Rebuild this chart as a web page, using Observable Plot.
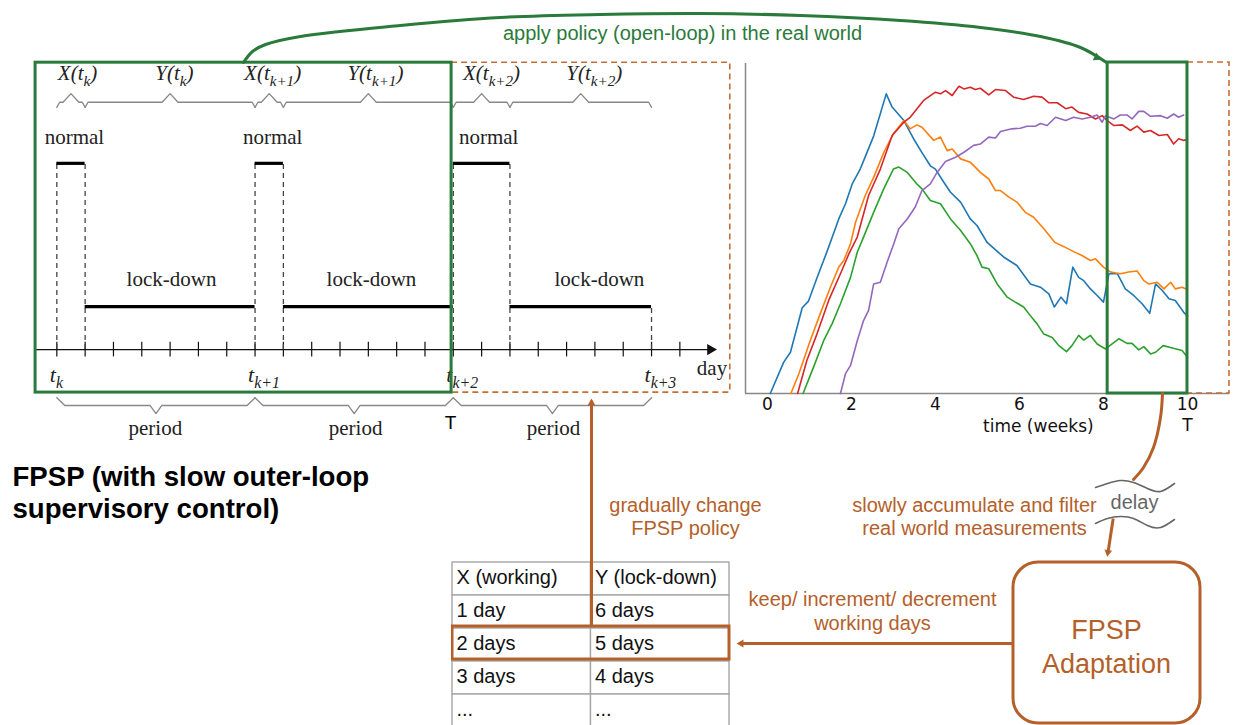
<!DOCTYPE html>
<html><head><meta charset="utf-8">
<script src="https://cdn.jsdelivr.net/npm/d3@7"></script>
<script src="https://cdn.jsdelivr.net/npm/@observablehq/plot@0.6"></script>
<style>
body{margin:0;background:#fff;}
#fig{position:relative;width:1235px;height:725px;overflow:hidden;background:#fff;}
#fig > *{position:absolute;}
</style></head><body><div id="fig"></div>
<script>
// ================= DATA =================
// --- timeline (left panel): FPSP schedule in days ---
const schedule = [
  {start: 0,  end: 1,  mode: "normal"},
  {start: 1,  end: 7,  mode: "lock-down"},
  {start: 7,  end: 8,  mode: "normal"},
  {start: 8,  end: 14, mode: "lock-down"},
  {start: 14, end: 16, mode: "normal"},
  {start: 16, end: 21, mode: "lock-down"}
];
const modeLevels = {"normal": 4.33, "lock-down": 1};
const dayTicks = [0,1,2,3,4,5,6,7,8,9,10,11,12,13,14,15,16,17,18,19,20,21,22];
const periodStarts = [0, 7, 14, 21];
const periodTickLabels = ["t_k", "t_{k+1}", "t_{k+2}", "t_{k+3}"];
const braceLabels = ["X(t_k)", "Y(t_k)", "X(t_{k+1})", "Y(t_{k+1})", "X(t_{k+2})", "Y(t_{k+2})"];
const braceLabelDays = [0.73, 4.15, 7.62, 11.25, 15.35, 18.98];
const modeLabelDays = [0.62, 4.05, 7.62, 11.11, 15.25, 19.16];
const periodLabelDays = [3.48, 10.55, 17.54];
const appliedWindow = [-0.75, 13.94];   // green box (days)
const nextWindow = [13.94, 23.78];      // orange dashed box (days)

// --- simulation (right panel): weeks vs. infections (arbitrary units) ---
const weekTicks = [0, 2, 4, 6, 8, 10];
const seriesNames = ["s1", "s2", "s3", "s4", "s5"];
const seriesColors = ["#1f77b4", "#ff7f0e", "#2ca02c", "#d62728", "#9467bd"];
const s1 = [[0.07,0],[0.39,9.5],[0.55,12.5],[0.83,26],[0.98,28],[1.18,35],[1.42,43],[1.70,52.9],[1.86,57.5],[2.02,63.5],[2.21,68],[2.53,78],[2.83,90.8],[2.97,86.8],[3.25,82.7],[3.48,77.2],[3.68,73],[3.88,69],[4.0,68],[4.2,64],[4.36,61],[4.6,58],[4.83,52.9],[4.99,50.9],[5.23,45.8],[5.63,41.3],[5.94,38.8],[6.26,33.2],[6.5,32.2],[6.7,30.2],[6.83,26.2],[6.99,29.2],[7.12,27.2],[7.27,38.3],[7.41,35.2],[7.53,34.2],[7.69,31.7],[7.85,29.7],[8.0,27.7],[8.13,36.3],[8.33,36.3],[8.52,31.7],[8.72,29.7],[8.92,27.2],[9.1,24.3],[9.24,33.2],[9.4,31.2],[9.56,28.7],[9.71,28.2],[9.91,24.6],[10.0,23.5]];
const s2 = [[0.56,0],[0.75,6],[1.02,16],[1.26,24.2],[1.5,32.2],[1.7,38.3],[1.82,40.3],[1.98,45.4],[2.1,51.9],[2.33,60],[2.53,65.5],[2.77,73],[3.0,78.7],[3.25,82.7],[3.4,80.2],[3.56,81.4],[3.68,80.7],[3.96,76.7],[4.12,77.7],[4.28,73.6],[4.4,74.1],[4.6,71.1],[4.83,70.1],[5.07,67],[5.27,65],[5.43,61.5],[5.55,61.5],[5.75,59.5],[5.94,58],[6.14,54.9],[6.34,53.4],[6.58,49.9],[6.84,45.8],[7.06,44.5],[7.29,43],[7.49,41.8],[7.69,40.3],[7.81,40.8],[8.0,38.3],[8.17,36.8],[8.4,36.3],[8.6,36.8],[8.8,37.1],[8.96,34.2],[9.08,33.2],[9.28,33.7],[9.44,31.7],[9.6,33.7],[9.71,31.7],[9.87,32.2],[10.0,31.5]];
const s3 = [[0.85,0],[1.1,8],[1.34,16],[1.54,21.1],[1.74,27.2],[1.98,35.2],[2.14,42.8],[2.29,47.4],[2.53,54.9],[2.77,62],[3.0,68],[3.13,68.6],[3.33,67],[3.56,63.5],[3.68,62],[3.88,58.5],[4.12,57.5],[4.36,52.9],[4.6,49.4],[4.83,45.4],[4.99,41.8],[5.11,38.3],[5.27,37.8],[5.47,33.2],[5.71,29.2],[5.9,27.7],[6.1,26.2],[6.26,23.6],[6.42,21.1],[6.58,18],[6.78,17],[6.94,14.5],[7.12,12.7],[7.25,14.5],[7.41,17.6],[7.53,16.2],[7.69,17.6],[7.85,15],[8.05,13.5],[8.37,16.6],[8.56,15.2],[8.68,15.2],[8.84,13.2],[8.96,14.2],[9.12,12],[9.24,12.5],[9.42,14.5],[9.64,13.8],[9.87,13],[10.0,11]];
const s4 = [[0.72,0],[0.94,10],[1.18,18],[1.46,28.2],[1.74,36.3],[1.94,42.3],[2.14,47.4],[2.41,60],[2.69,68],[2.97,78.2],[3.25,82.2],[3.4,83.7],[3.72,88.8],[4.0,91.3],[4.12,90.8],[4.24,91.8],[4.4,90.3],[4.56,93.1],[4.68,92.3],[4.83,92.8],[4.95,92.1],[5.07,92.5],[5.27,90.5],[5.43,92.1],[5.67,91.8],[5.86,89.8],[6.1,89.1],[6.34,90.1],[6.54,89.8],[6.7,88.1],[6.9,88.1],[7.1,86.3],[7.25,86.8],[7.41,85.2],[7.61,84.7],[7.81,83.2],[7.97,84.2],[8.09,82.7],[8.25,81.2],[8.45,81.4],[8.64,79.7],[8.8,81],[8.96,79.2],[9.12,79.7],[9.32,78.2],[9.52,78.5],[9.67,75.6],[9.79,77.2],[9.91,76.7],[10.0,77]];
const s5 = [[1.74,0],[1.86,6],[1.98,8.5],[2.14,16],[2.29,22.1],[2.41,25.2],[2.53,33.2],[2.69,33.7],[2.85,39.8],[3.01,45.4],[3.13,49.9],[3.33,52.9],[3.52,56.5],[3.68,61.5],[3.88,63.5],[4.04,67],[4.24,70.3],[4.48,71.6],[4.68,73.1],[4.91,75.2],[5.07,75.6],[5.27,77.7],[5.43,77.4],[5.55,79.4],[5.82,80.2],[6.02,80.4],[6.18,81],[6.38,81],[6.5,81.8],[6.66,81.2],[6.86,83.7],[7.1,82.7],[7.29,83.7],[7.49,83.2],[7.69,83.7],[7.85,84.4],[7.97,82.2],[8.05,84.2],[8.25,83.2],[8.4,84.4],[8.56,84.4],[8.68,83.2],[8.84,85.5],[8.96,85.5],[9.12,84],[9.36,84.2],[9.52,83.4],[9.67,84.7],[9.79,83.7],[9.91,84.4]];
const realWindow = [8.1, 10];   // green box (weeks)
const futureWindow = [10, 11];  // orange dashed box (weeks)

// --- policy table ---
const tableHeader = ["X (working)", "Y (lock-down)"];
const tableX = ["1 day", "2 days", "3 days", "..."];
const tableY = ["6 days", "5 days", "4 days", "..."];
const selectedRow = 1;

// --- annotation texts ---
const titleText = "FPSP (with slow outer-loop\nsupervisory control)";
const applyText = "apply policy (open-loop) in the real world";
const changeText = "gradually change\nFPSP policy";
const measureText = "slowly accumulate and filter\nreal world measurements";
const adjustText = "keep/ increment/ decrement\nworking days";
const boxText = "FPSP\nAdaptation";
const delayText = "delay";

// annotation geometry (page pixels)
const applyCurvePts = [[243,62],[252,51],[265,44],[300,36],[400,25],[500,17],[600,14],[700,13],[800,15],[900,20],[980,27],[1040,36],[1080,47],[1106,62]];
const measureCurvePts = [[1162,393],[1160,417],[1153,447],[1143,467],[1133,479]];
const waveTop = [[1095,487],[1107,483],[1120,480],[1133,482],[1147,488],[1160,491],[1174,483]];
const waveBottom = [[1095,523],[1107,518],[1120,516],[1133,518],[1147,525],[1160,527],[1174,519]];

// ================= STYLE =================
const GREEN = "#2a7a3b", ORANGE = "#b5602a", ORANGE_D = "#c46e36";
const fig = document.getElementById("fig");
const NS = "http://www.w3.org/2000/svg";

function place(el, left, top) { el.style.left = left + "px"; el.style.top = top + "px"; fig.appendChild(el); return el; }

// turn "X(t_{k+1})" into tspans with subscript
function subscripts(svg, shift) {
  svg.querySelectorAll("text").forEach(t => {
    const s = t.textContent;
    const m = s.match(/^(.*?)_(?:\{([^}]*)\}|(\w))(.*)$/);
    if (!m) return;
    t.textContent = "";
    const a = document.createElementNS(NS, "tspan"); a.textContent = m[1]; t.appendChild(a);
    const b = document.createElementNS(NS, "tspan"); b.textContent = m[2] || m[3];
    b.setAttribute("font-size", "72%"); b.setAttribute("dy", shift); t.appendChild(b);
    if (m[4]) { const c = document.createElementNS(NS, "tspan"); c.textContent = m[4]; c.setAttribute("dy", -shift); t.appendChild(c); }
  });
}

// ================= LEFT: TIMELINE =================
{
  const segs = schedule.map(d => ({...d, level: modeLevels[d.mode]}));
  const bounds = [];
  segs.forEach((d, i) => {
    const prev = segs[i - 1];
    bounds.push({day: d.start, top: Math.max(d.level, prev ? prev.level : 0)});
  });
  bounds.push({day: segs[segs.length - 1].end, top: segs[segs.length - 1].level});

  const topBrace = [];
  segs.forEach((d, i) => {
    const a = d.start, b = d.end, m = (a + b) / 2;
    [[a,5.63],[a+0.1,5.75],[m-0.28,5.75],[m,5.95],[m+0.28,5.75],[b-0.1,5.75],[b,5.63]]
      .forEach(([x,y]) => topBrace.push({x, y, id: i}));
  });
  const botBrace = [];
  periodStarts.slice(0, -1).forEach((a, i) => {
    const b = periodStarts[i + 1], m = (a + b) / 2;
    [[a,-1.12],[a+0.28,-1.30],[m-0.21,-1.30],[m,-1.49],[m+0.21,-1.30],[b-0.28,-1.30],[b,-1.12]]
      .forEach(([x,y]) => botBrace.push({x, y, id: i}));
  });
  const labelsTop = braceLabels.map((t, i) => ({t, x: braceLabelDays[i]}));
  const labelsMode = segs.map((d, i) => ({t: d.mode, x: modeLabelDays[i], y: d.mode === "normal" ? 4.93 : 1.63}));
  const ticksLab = periodTickLabels.map((t, i) => ({t, x: periodStarts[i]}));

  const svg = Plot.plot({
    width: 736, height: 460,
    marginLeft: 28, marginRight: 0, marginTop: 48, marginBottom: 12,
    x: {domain: [-1, 24], axis: null},
    y: {domain: [-2.3, 7], axis: null},
    style: {fontFamily: "Liberation Serif", fontSize: "21px", color: "#111", background: "transparent"},
    marks: [
      // day axis
      Plot.ruleY([0], {x1: appliedWindow[0], x2: 23.1, stroke: "#111", strokeWidth: 1.3}),
      Plot.dot([{x: 23.08, y: 0}], {x: "x", y: "y", symbol: "triangle", rotate: 90, r: 4.2, fill: "#111", stroke: "none"}),
      Plot.ruleX(dayTicks, {x: d => d, y1: -0.17, y2: 0.17, stroke: "#111", strokeWidth: 1.2}),
      // dashed boundaries
      Plot.ruleX(bounds, {x: "day", y1: 0, y2: "top", stroke: "#444", strokeWidth: 1.3, strokeDasharray: "5,4"}),
      // mode levels
      Plot.ruleY(segs, {x1: "start", x2: "end", y: "level", stroke: "#000", strokeWidth: 3.2}),
      // braces
      Plot.line(topBrace, {x: "x", y: "y", z: "id", stroke: "#888", strokeWidth: 1.3}),
      Plot.line(botBrace, {x: "x", y: "y", z: "id", stroke: "#888", strokeWidth: 1.3}),
      // labels
      Plot.text(labelsTop, {x: "x", y: 6.42, text: "t", fontStyle: "italic", fontSize: 21, fill: "#222"}),
      Plot.text(labelsMode, {x: "x", y: "y", text: "t", fontSize: 21, fill: "#222"}),
      Plot.text(ticksLab, {x: "x", y: -0.6, text: "t", fontStyle: "italic", fontSize: 22, textAnchor: "start", dx: -7, fill: "#222"}),
      Plot.text(periodLabelDays, {x: d => d, y: -1.84, text: () => "period", fontSize: 21, fill: "#222"}),
      Plot.text(["day"], {x: 22.6, y: -0.44, text: d => d, textAnchor: "start", fontSize: 21, fill: "#222"}),
      Plot.text(["T"], {x: 13.9, y: -1.70, text: d => d, fontFamily: "Liberation Sans", fontSize: 19, fill: "#000"}),
      // windows
      Plot.rect([{x1: nextWindow[0], x2: nextWindow[1], y1: -1.0, y2: 6.67}], {x1: "x1", x2: "x2", y1: "y1", y2: "y2", fill: "none", stroke: ORANGE_D, strokeWidth: 1.6, strokeDasharray: "6,4"}),
      Plot.rect([{x1: appliedWindow[0], x2: appliedWindow[1], y1: -1.0, y2: 6.67}], {x1: "x1", x2: "x2", y1: "y1", y2: "y2", fill: "none", stroke: GREEN, strokeWidth: 3})
    ]
  });
  subscripts(svg, 6);
  place(svg, 0, 0);
}

// ================= RIGHT: SIMULATION =================
{
  const all = [s1, s2, s3, s4, s5];
  const lineData = all.flatMap((pts, i) => pts.map(([w, v]) => ({week: w, value: v, series: seriesNames[i]})));
  const svg = Plot.plot({
    width: 535, height: 450,
    marginLeft: 45, marginRight: 6, marginTop: 63, marginBottom: 57,
    x: {domain: [-0.52, 11], ticks: weekTicks, tickSize: 0, tickPadding: 4, label: null},
    y: {domain: [0, 100], axis: null},
    color: {domain: seriesNames, range: seriesColors},
    style: {fontFamily: "DejaVu Sans", fontSize: "17px", color: "#111", background: "transparent"},
    marks: [
      Plot.ruleX([-0.52], {stroke: "#888", strokeWidth: 1.5}),
      Plot.ruleY([0], {stroke: "#888", strokeWidth: 1.5}),
      Plot.line(lineData, {x: "week", y: "value", z: "series", stroke: "series", strokeWidth: 1.6}),
      Plot.rect([{x1: futureWindow[0], x2: futureWindow[1], y1: 0, y2: 100.3}], {x1: "x1", x2: "x2", y1: "y1", y2: "y2", fill: "none", stroke: ORANGE_D, strokeWidth: 1.6, strokeDasharray: "6,4"}),
      Plot.rect([{x1: realWindow[0], x2: realWindow[1], y1: 0, y2: 100.3}], {x1: "x1", x2: "x2", y1: "y1", y2: "y2", fill: "none", stroke: GREEN, strokeWidth: 3}),
      Plot.text(["time (weeks)"], {x: 6.45, frameAnchor: "bottom", lineAnchor: "middle", dy: 33, text: d => d, fill: "#111"}),
      Plot.text(["T"], {x: 10, frameAnchor: "bottom", lineAnchor: "middle", dy: 32, text: d => d, fill: "#111"})
    ]
  });
  place(svg, 700, 0);
}

// ================= TABLE =================
{
  const cells = [];
  const rows = [tableHeader, ...tableX.map((x, i) => [x, tableY[i]])];
  rows.forEach((r, ri) => r.forEach((t, ci) => cells.push({c: ci, r: ri, t})));
  const svg = Plot.plot({
    width: 280, height: 168,
    marginLeft: 1, marginRight: 2, marginTop: 1, marginBottom: 2,
    x: {domain: [0, 2], axis: null},
    y: {domain: [0, 5], range: [1, 166], axis: null},
    style: {fontFamily: "Liberation Sans", fontSize: "20px", background: "transparent"},
    marks: [
      Plot.rect(cells, {x1: "c", x2: d => d.c + 1, y1: "r", y2: d => d.r + 1, fill: "#fff", stroke: "#a6a6a6", strokeWidth: 1.4}),
      Plot.text(cells, {x: "c", y: d => d.r + 0.47, text: "t", textAnchor: "start", dx: 4, fill: "#111"}),
      Plot.rect([{r: selectedRow + 1}], {x1: 0, x2: 2, y1: d => d.r - 0.06, y2: d => d.r + 0.94, fill: "none", stroke: ORANGE, strokeWidth: 3})
    ]
  });
  place(svg, 451, 561);
}

// ================= OVERLAY: ARROWS & ANNOTATIONS =================
{
  const pts = (arr) => arr.map(([x, y]) => ({x, y}));
  // arrowhead (triangle) placed so that its tip is at `tip`, pointing away from `from`
  function head(tip, from, r) {
    const dx = tip[0] - from[0], dy = tip[1] - from[1], L = Math.hypot(dx, dy);
    const ux = dx / L, uy = dy / L;
    const rot = Math.atan2(ux, -uy) * 180 / Math.PI;
    return {x: tip[0] - 1.555 * r * ux, y: tip[1] - 1.555 * r * uy, rot, r};
  }
  const greenHead = [head([1106, 62], [1063, 40], 7)];
  const orangeHeads = [
    head([591, 393], [591, 430], 6.2),
    head([1106, 561], [1112.7, 518], 6),
    head([731, 643], [780, 643], 6.2)
  ];
  const orangeSegs = [
    {x1: 591, y1: 626, x2: 591, y2: 400},
    {x1: 1112.7, y1: 518, x2: 1107.5, y2: 552},
    {x1: 1013, y1: 643, x2: 740, y2: 643}
  ];
  const svg = Plot.plot({
    width: 1235, height: 725, margin: 0,
    x: {domain: [0, 1235], range: [0, 1235], axis: null},
    y: {domain: [0, 725], range: [0, 725], axis: null},
    style: {fontFamily: "Liberation Sans", fontSize: "20px", background: "transparent"},
    marks: [
      // apply policy arrow
      Plot.line(pts(applyCurvePts), {x: "x", y: "y", curve: "catmull-rom", stroke: GREEN, strokeWidth: 3}),
      Plot.dot(greenHead, {x: "x", y: "y", r: "r", rotate: "rot", symbol: "triangle", fill: GREEN, stroke: "none"}),
      Plot.text([applyText], {x: 682, y: 33, text: d => d, fill: GREEN, fontSize: 20}),
      // measurement path
      Plot.line(pts(measureCurvePts), {x: "x", y: "y", curve: "catmull-rom", stroke: ORANGE, strokeWidth: 3}),
      Plot.line(pts(waveTop), {x: "x", y: "y", curve: "natural", stroke: "#666", strokeWidth: 1.6}),
      Plot.line(pts(waveBottom), {x: "x", y: "y", curve: "natural", stroke: "#666", strokeWidth: 1.6}),
      Plot.text([delayText], {x: 1134, y: 502, text: d => d, fill: "#666", fontSize: 20}),
      // orange arrows
      Plot.link(orangeSegs, {x1: "x1", y1: "y1", x2: "x2", y2: "y2", stroke: ORANGE, strokeWidth: 3}),
      Plot.dot(orangeHeads, {x: "x", y: "y", r: "r", rotate: "rot", symbol: "triangle", fill: ORANGE, stroke: "none"}),
      // adaptation box
      Plot.rect([{x1: 1013, x2: 1200, y1: 562, y2: 723}], {x1: "x1", x2: "x2", y1: "y1", y2: "y2", rx: 25, fill: "none", stroke: ORANGE, strokeWidth: 3}),
      Plot.text([boxText], {x: 1106, y: 645, text: d => d, fill: ORANGE, fontSize: 27, lineHeight: 1.26}),
      // orange captions
      Plot.text([changeText], {x: 685, y: 516, text: d => d, fill: ORANGE, fontSize: 20, lineHeight: 1.15}),
      Plot.text([measureText], {x: 974, y: 516, text: d => d, fill: ORANGE, fontSize: 20, lineHeight: 1.15}),
      Plot.text([adjustText], {x: 872, y: 610, text: d => d, fill: ORANGE, fontSize: 20, lineHeight: 1.2}),
      // title
      Plot.text([titleText], {x: 12, y: 491, text: d => d, textAnchor: "start", fill: "#000", fontSize: 27.6, fontWeight: "bold", lineHeight: 1.16})
    ]
  });
  svg.style.pointerEvents = "none";
  place(svg, 0, 0);
}
</script></body></html>
